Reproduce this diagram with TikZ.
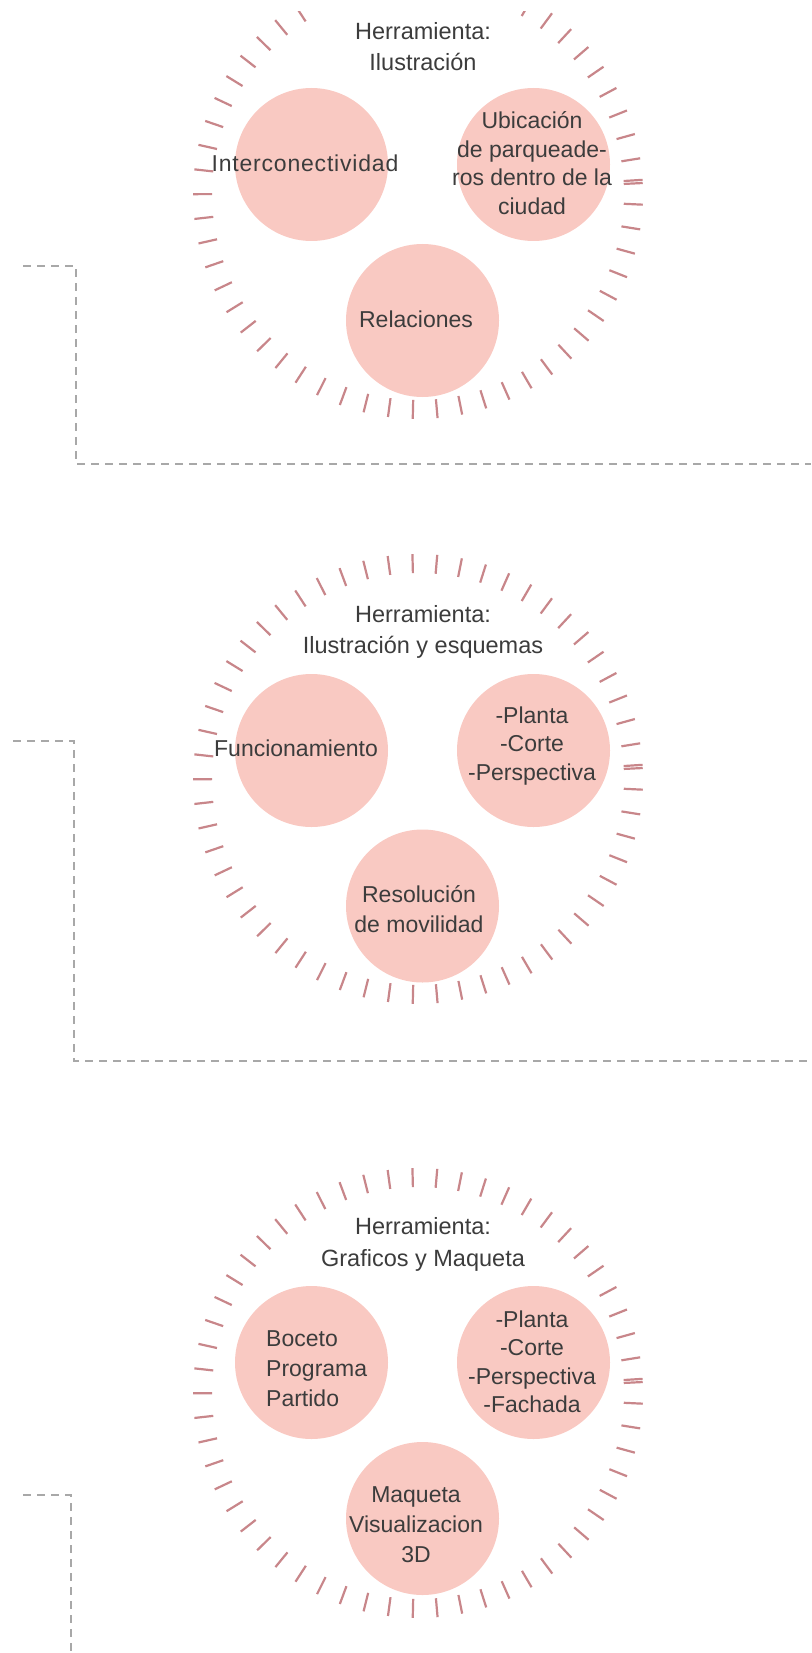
\documentclass[tikz,border=0pt]{standalone}
\usepackage{fontspec}
\setmainfont{Liberation Sans}
\usetikzlibrary{calc}
\definecolor{bub}{HTML}{F9C9C2}
\definecolor{tk}{HTML}{C8868A}
\definecolor{txt}{HTML}{3C3C3C}
\definecolor{dsh}{HTML}{A8A8A8}
\tikzset{
  bubble/.style={circle, fill=bub, draw=none, minimum size=153pt, inner sep=0pt},
  lbl/.style={text=txt, font=\fontsize{23}{30}\selectfont, align=center, inner sep=0pt},
  lblt/.style={text=txt, font=\fontsize{23}{28.5}\selectfont, align=center, inner sep=0pt},
  ttl/.style={text=txt, font=\fontsize{23.5}{31.5}\selectfont, align=center, inner sep=0pt},
  tickmark/.style={draw=tk, line width=2.2pt},
  guide/.style={draw=dsh, line width=1.8pt, dash pattern=on 8pt off 6pt},
}
\newcommand{\tickring}[1]{%
  \begin{scope}[shift={(#1)}]
    \foreach \k in {0,...,57}{%
      \pgfmathsetmacro{\ang}{-2.8-\k*6.33}
      \draw[tickmark] (\ang:206) -- (\ang:225);
    }
  \end{scope}}
\begin{document}
\begin{tikzpicture}[x=1pt,y=-1pt]
\useasboundingbox (0,0) rectangle (811,1653);
\clip (0,0) rectangle (811,1653);

% ---------- group 1 ----------
\coordinate (r1) at (418,194);
\node[bubble] (b1l) at (311.5,164.5) {};
\node[bubble] (b1r) at (533.5,164.5) {};
\node[bubble] (b1b) at (422.5,320.5) {};
\begin{scope}
  \clip (0,12) rectangle (811,480);
  \tickring{r1}
\end{scope}
\node[ttl] (t1) at (423,46.5) {Herramienta:\\Ilustración};
\node[lbl] (l1l) at (305,163) {\addfontfeature{LetterSpace=3.5}Interconectividad};
\node[lblt] (l1r) at (532,163) {Ubicación\\de parqueade-\\ros dentro de la\\ciudad};
\node[lbl] (l1b) at (416,319) {Relaciones};

% ---------- group 2 ----------
\coordinate (r2) at (418,779);
\node[bubble] (b2l) at (311.5,750.5) {};
\node[bubble] (b2r) at (533.5,750.5) {};
\node[bubble] (b2b) at (422.5,906) {};
\tickring{r2}
\node[ttl] (t2) at (423,632) {Herramienta:\\Ilustración y esquemas};
\node[lbl] (l2l) at (296,748) {Funcionamiento};
\node[lblt] (l2r) at (532,746) {-Planta\\-Corte\\-Perspectiva};
\node[lbl] (l2b) at (419,909) {Resolución\\de movilidad};

% ---------- group 3 ----------
\coordinate (r3) at (418,1393);
\node[bubble] (b3l) at (311.5,1362.5) {};
\node[bubble] (b3r) at (533.5,1362.5) {};
\node[bubble] (b3b) at (422.5,1518.5) {};
\tickring{r3}
\node[ttl] (t3) at (423,1244.5) {Herramienta:\\Graficos y Maqueta};
\node[lbl, align=left, anchor=west] (l3l) at (266,1368.5) {Boceto\\Programa\\Partido};
\node[lblt] (l3r) at (532,1362) {-Planta\\-Corte\\-Perspectiva\\-Fachada};
\node[lbl] (l3b) at (416,1524.5) {Maqueta\\Visualizacion\\3D};

% ---------- dashed guides ----------
\coordinate (d1a) at (23,266);
\coordinate (d1b) at (76,266);
\coordinate (d1c) at (76,464);
\coordinate (d1d) at (811,464);
\draw[guide] (d1a) -- (d1b) -- (d1c) -- (d1d);

\coordinate (d2a) at (13,741);
\coordinate (d2b) at (74,741);
\coordinate (d2c) at (74,1061);
\coordinate (d2d) at (811,1061);
\draw[guide] (d2a) -- (d2b) -- (d2c) -- (d2d);

\coordinate (d3a) at (23,1495);
\coordinate (d3b) at (71,1495);
\coordinate (d3c) at (71,1653);
\draw[guide] (d3a) -- (d3b) -- (d3c);
\end{tikzpicture}
\end{document}
